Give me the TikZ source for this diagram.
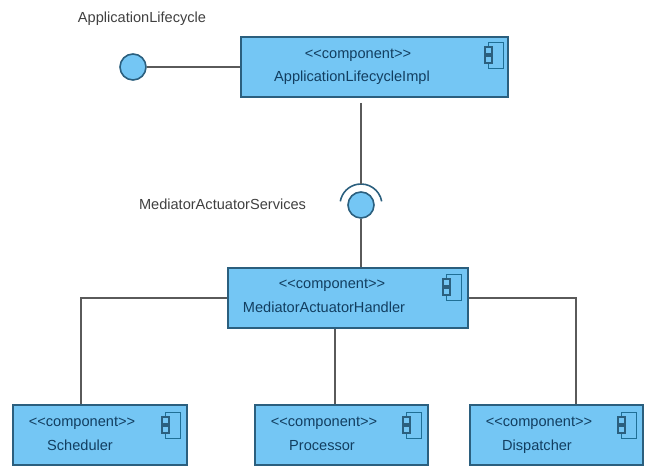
\documentclass[tikz,border=0pt]{standalone}
\usepackage{fontspec}
\setmainfont{Liberation Sans}
\definecolor{compfill}{HTML}{74C6F4}
\definecolor{compline}{HTML}{2B5F7E}
\definecolor{compicon}{HTML}{1F6F96}
\definecolor{comptext}{HTML}{123E60}
\definecolor{wire}{HTML}{5A5A5A}
\newcommand{\stereo}{{<}{<}component{>}{>}}
\tikzset{
    comp/.style={draw=compline,line width=0.9pt,fill=compfill,minimum height=1.2cm,inner sep=0pt},
    ball/.style={circle,draw=compline,line width=0.9pt,fill=compfill,minimum size=0.52cm,inner sep=0pt},
    wireline/.style={draw=wire,line width=1.1pt},
    comptxt/.style={text=comptext,font=\fontsize{8.3}{10}\selectfont,inner sep=0pt,text height=0.2cm,text depth=0.06cm},
    outtxt/.style={text=black!75,font=\fontsize{8.3}{10}\selectfont,inner sep=0pt},
    pics/compmark/.style={code={
        \draw[compicon,line width=0.7pt,fill=compfill] (-0.2,0) rectangle (0.1,-0.52);
        \draw[compline,line width=0.9pt,fill=compfill] (-0.28,-0.1) rectangle (-0.14,-0.24);
        \draw[compline,line width=0.9pt,fill=compfill] (-0.28,-0.28) rectangle (-0.14,-0.42);
    }}
}
\begin{document}
\begin{tikzpicture}
    \useasboundingbox (0,0) rectangle (12.92,9.32);
    %% components
    \node[comp,minimum width=5.34cm] (impl) at (7.49,7.98) {};
    \node[comp,minimum width=4.8cm] (handler) at (6.96,3.36) {};
    \node[comp,minimum width=3.48cm] (sched) at (2.0,0.62) {};
    \node[comp,minimum width=3.46cm] (proc) at (6.83,0.62) {};
    \node[comp,minimum width=3.46cm] (disp) at (11.13,0.62) {};
    %% icons
    \pic at ([xshift=-0.2cm,yshift=-0.12cm]impl.north east) {compmark};
    \pic at ([xshift=-0.24cm,yshift=-0.14cm]handler.north east) {compmark};
    \pic at ([xshift=-0.24cm,yshift=-0.16cm]sched.north east) {compmark};
    \pic at ([xshift=-0.24cm,yshift=-0.16cm]proc.north east) {compmark};
    \pic at ([xshift=-0.24cm,yshift=-0.16cm]disp.north east) {compmark};
    %% interfaces
    \node[ball] (lifeball) at (2.66,7.98) {};
    \node[ball] (servball) at (7.22,5.22) {};
    \draw[compline,line width=0.9pt] (7.22,5.22) ++(10:0.42) arc (10:170:0.42);
    \coordinate (servtop) at (7.22,5.64);
    %% labels
    \node[outtxt] (lifelabel) at (2.84,8.94) {ApplicationLifecycle};
    \node[outtxt] (servlabel) at (4.45,5.24) {MediatorActuatorServices};
    \node[comptxt] (implst) at (7.16,8.22) {\stereo};
    \node[comptxt] (implname) at (7.04,7.76) {ApplicationLifecycleImpl};
    \node[comptxt] (handlerst) at (6.64,3.62) {\stereo};
    \node[comptxt] (handlername) at (6.48,3.14) {MediatorActuatorHandler};
    \node[comptxt] (schedst) at (1.64,0.86) {\stereo};
    \node[comptxt] (schedname) at (1.6,0.38) {Scheduler};
    \node[comptxt] (procst) at (6.48,0.86) {\stereo};
    \node[comptxt] (procname) at (6.44,0.38) {Processor};
    \node[comptxt] (dispst) at (10.78,0.86) {\stereo};
    \node[comptxt] (dispname) at (10.74,0.38) {Dispatcher};
    %% wires
    \draw[wireline] (lifeball) -- (impl.west);
    \draw[wireline,shorten <=0.1cm] (servtop |- impl.south) -- (servtop);
    \draw[wireline] (servball) -- (servball |- handler.north);
    \draw[wireline] (handler.west) -| ([xshift=-0.38cm]sched.north);
    \draw[wireline] (proc.north -| 6.7,0) -- (6.7,0 |- handler.south);
    \draw[wireline] (handler.east) -| ([xshift=0.39cm]disp.north);
\end{tikzpicture}
\end{document}
